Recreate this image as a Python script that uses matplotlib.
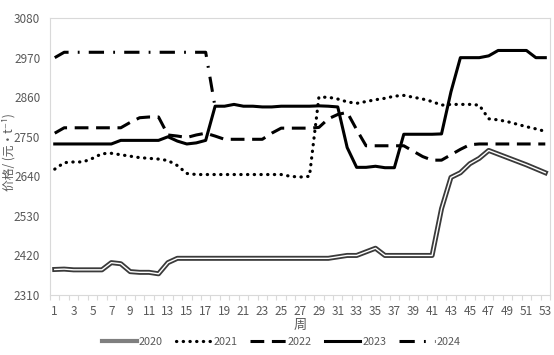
import numpy as np
import matplotlib
matplotlib.use("Agg")
from matplotlib import pyplot as plt
from matplotlib import patheffects as pe
from matplotlib.ticker import FixedLocator

plt.rcParams['font.family'] = ['Noto Sans CJK SC', 'DejaVu Sans']

weeks = list(range(1, 54))

# 周度价格（元/t）
p2020 = [2381, 2382, 2380, 2380, 2380, 2380, 2400, 2397, 2375, 2373,
         2373, 2369, 2400, 2412, 2412, 2412, 2412, 2412, 2412, 2412,
         2412, 2412, 2412, 2412, 2412, 2412, 2412, 2412, 2412, 2412,
         2416, 2420, 2420, 2430, 2440, 2420, 2420, 2420, 2420, 2420,
         2420, 2550, 2637, 2650, 2675, 2690, 2712, 2702, 2692, 2682,
         2672, 2661, 2650]
p2021 = [2660, 2678, 2680, 2680, 2690, 2703, 2704, 2700, 2696, 2692,
         2690, 2688, 2684, 2670, 2648, 2645, 2645, 2645, 2645, 2645,
         2645, 2645, 2645, 2645, 2645, 2640, 2638, 2640, 2860, 2860,
         2855, 2847, 2843, 2848, 2853, 2857, 2863, 2865, 2860, 2855,
         2848, 2838, 2840, 2840, 2840, 2838, 2800, 2797, 2792, 2785,
         2778, 2772, 2765]
p2022 = [2760, 2775, 2775, 2775, 2775, 2775, 2775, 2775, 2790, 2803,
         2805, 2805, 2755, 2752, 2748, 2755, 2760, 2752, 2743, 2743,
         2743, 2743, 2743, 2760, 2774, 2774, 2774, 2774, 2776, 2800,
         2812, 2818, 2770, 2725, 2725, 2725, 2725, 2725, 2710, 2695,
         2685, 2685, 2700, 2715, 2728, 2730, 2730, 2730, 2730, 2730,
         2730, 2730, 2730]
p2023 = [2730, 2730, 2730, 2730, 2730, 2730, 2730, 2740, 2740, 2740,
         2740, 2740, 2750, 2738, 2730, 2733, 2740, 2835, 2835, 2840,
         2835, 2835, 2833, 2833, 2835, 2835, 2835, 2835, 2836, 2835,
         2833, 2720, 2665, 2665, 2668, 2664, 2664, 2757, 2757, 2757,
         2757, 2758, 2875, 2970, 2970, 2970, 2975, 2990, 2990, 2990,
         2990, 2970, 2970]
p2024 = [2970, 2985, 2985, 2985, 2985, 2985, 2985, 2985, 2985, 2985,
         2985, 2985, 2985, 2985, 2985, 2985, 2985, 2832]

yticks = [2310, 2420, 2530, 2640, 2750, 2860, 2970, 3080]
xticks = list(range(1, 54, 2))

fig = plt.figure(figsize=(5.54, 3.55), dpi=100)
ax = fig.add_axes([0.0903, 0.169, 0.9025, 0.780])

ax.plot(weeks, p2020, color='white', lw=1.0, label='2020',
        path_effects=[pe.Stroke(linewidth=3.6, foreground='#3a3a3a'), pe.Normal()])
ax.plot(weeks, p2021, color='black', lw=2.3, linestyle=(0, (0.1, 2.0)),
        dash_capstyle='round', label='2021')
ax.plot(weeks, p2022, color='black', lw=2.2, linestyle=(0, (4.5, 2.5)), label='2022')
ax.plot(weeks, p2023, color='black', lw=2.2, linestyle='-', label='2023')
ax.plot(range(1, len(p2024) + 1), p2024, color='black', lw=2.2,
        linestyle=(0, (5, 3, 0.6, 3)), label='2024')

ax.set_xlim(0.5, 53.5)
ax.set_ylim(2310, 3080)
ax.set_yticks(yticks)
ax.set_xticks(xticks)
ax.xaxis.set_minor_locator(FixedLocator(np.arange(0.5, 54, 1)))

for s in ax.spines.values():
    s.set_color('#d9d9d9')
    s.set_linewidth(0.8)
ax.tick_params(axis='both', labelsize=8.5, colors='#595959')
ax.tick_params(axis='y', length=0, pad=7)
ax.tick_params(axis='x', which='major', length=0, pad=7)
ax.tick_params(axis='x', which='minor', length=3.5, color='#d9d9d9', width=0.8)

ax.set_xlabel('周', fontsize=9.5, color='#595959', labelpad=1)
fig.text(8.5 / 554, 1 - 152 / 355, '价格/ (元·t⁻¹)', rotation=90, fontsize=8.5,
         color='#595959', ha='center', va='center')

leg = ax.legend(loc='center', bbox_to_anchor=(0.462, -0.17), ncol=5, frameon=False,
                fontsize=7.8, handlelength=3.3, handletextpad=0.15, columnspacing=1.2)
for t in leg.get_texts():
    t.set_color('#595959')
leg.get_lines()[0].set_path_effects([])
leg.get_lines()[0].set_color('#7f7f7f')
leg.get_lines()[0].set_linewidth(3.0)

fig.savefig('out.png', dpi=100)
